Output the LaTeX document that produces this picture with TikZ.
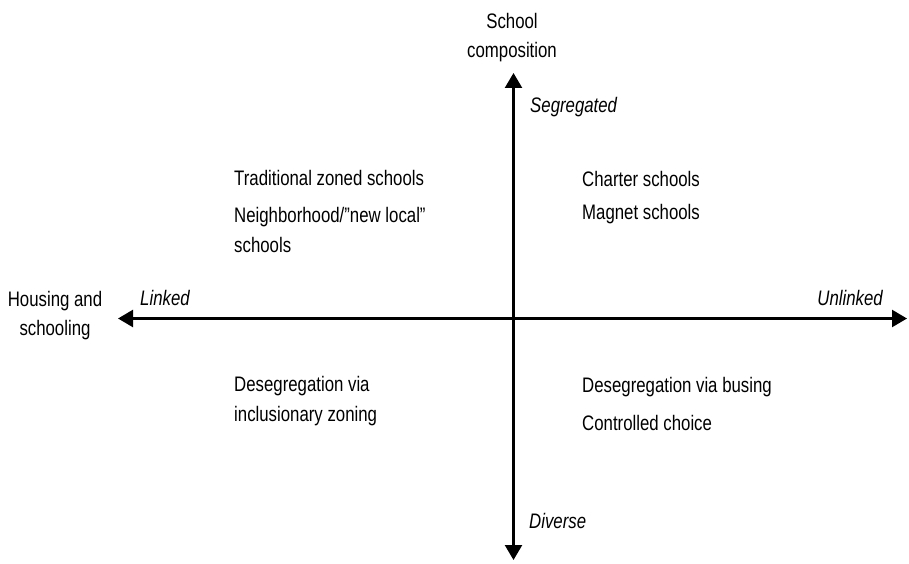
\documentclass[tikz,border=0pt]{standalone}
\usepackage{fontspec}
\setmainfont{Liberation Sans}[FakeStretch=0.8]
\usetikzlibrary{arrows.meta}

\tikzset{
    axis/.style = {line width=2.4pt, {Triangle[length=15pt,width=17pt]}-{Triangle[length=15pt,width=17pt]}},
    lbl/.style = {inner sep=0pt, font=\fontsize{21}{30}\selectfont, align=left, anchor=base west},
    pole/.style = {lbl, font=\fontsize{21}{30}\selectfont\itshape},
    title/.style = {lbl, font=\fontsize{21}{29}\selectfont, align=center, anchor=base}
}

\begin{document}
\begin{tikzpicture}[x=1pt, y=1pt]
        \useasboundingbox (0,0) rectangle (909,563);

        % Axes
        \coordinate (top) at (513.5,490);
        \coordinate (bottom) at (513.5,3);
        \coordinate (left) at (118,244.5);
        \coordinate (right) at (907,244.5);
        \draw[axis] (bottom) -- (top); % School composition
        \draw[axis] (left) -- (right); % Housing and schooling

        % Axis titles (base is the last line)
        \node[title] (comp) at (512,505) {School\\composition};
        \node[title] (housing) at (55,228) {Housing and\\schooling};

        % Ends of the axes
        \node[pole] (segregated) at (530,450) {Segregated};
        \node[pole] (diverse) at (529,35) {Diverse};
        \node[pole] (linked) at (140,258) {Linked};
        \node[pole, anchor=base east] (unlinked) at (883,258) {Unlinked};

        % Upper left
        \node[lbl] (zoned) at (234,377) {Traditional zoned schools};
        \node[lbl] (local) at (234,311) {Neighborhood/"new local"\\schools};

        % Upper right
        \node[lbl] (charter) at (582,376) {Charter schools};
        \node[lbl] (magnet) at (582,343) {Magnet schools};

        % Lower left
        \node[lbl] (zoning) at (234,142) {Desegregation via\\inclusionary zoning};

        % Lower right
        \node[lbl] (busing) at (582,171) {Desegregation via busing};
        \node[lbl] (choice) at (582,133) {Controlled choice};
\end{tikzpicture}
\end{document}
